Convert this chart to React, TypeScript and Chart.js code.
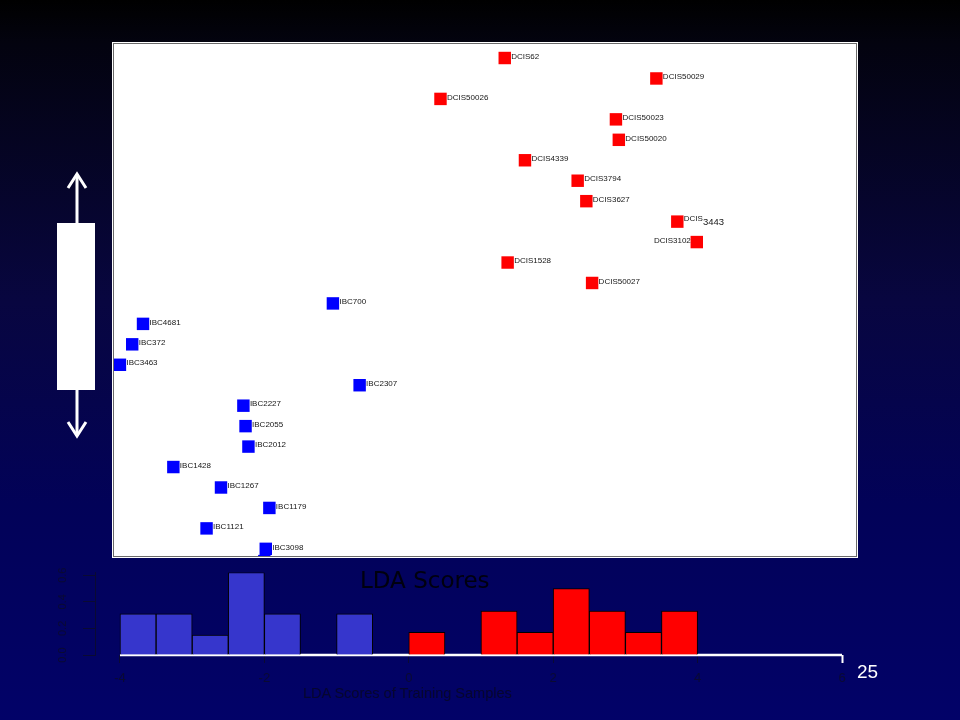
import React, { useEffect, useRef } from "react";
import { Chart, registerables } from "chart.js";

Chart.register(...registerables);

// ---------- Scatter (LDA score vs. sample order) ----------
const dcisLabels = ["DCIS62", "DCIS50029", "DCIS50026", "DCIS50023", "DCIS50020", "DCIS4339", "DCIS3794", "DCIS3627", "DCIS3443", "DCIS3102", "DCIS1528", "DCIS50027"];
const dcisScores = [1.34, 3.44, 0.45, 2.88, 2.92, 1.62, 2.35, 2.47, 3.73, 4.0, 1.38, 2.55];
const dcisOrder = [1, 2, 3, 4, 5, 6, 7, 8, 9, 10, 11, 12];

const ibcLabels = ["IBC700", "IBC4681", "IBC372", "IBC3463", "IBC2307", "IBC2227", "IBC2055", "IBC2012", "IBC1428", "IBC1267", "IBC1179", "IBC1121", "IBC3098", ""];
const ibcScores = [-1.04, -3.67, -3.82, -3.99, -0.67, -2.28, -2.25, -2.21, -3.25, -2.59, -1.92, -2.79, -1.97, -1.99];
const ibcOrder = [13, 14, 15, 16, 17, 18, 19, 20, 21, 22, 23, 24, 25, 25.6];

// ---------- Histogram (density of LDA scores) ----------
const ibcBinCenters = [-3.75, -3.25, -2.75, -2.25, -1.75, -0.75];
const ibcDensity = [0.31, 0.31, 0.15, 0.62, 0.31, 0.31];
const dcisBinCenters = [0.25, 1.25, 1.75, 2.25, 2.75, 3.25, 3.75];
const dcisDensity = [0.17, 0.33, 0.17, 0.5, 0.33, 0.17, 0.33];
const baselineX = [-4, 6];
const xTickValues = [-4, -2, 0, 2, 4, 6];
const yTickValues = [0, 0.2, 0.4, 0.6];

const pointLabelSets = [dcisLabels, ibcLabels];
const leftLabels = new Set(["DCIS3102"]);
const splitLabels: Record<string, number> = { DCIS3443: 4 };

const DARK = "#0a0a32";

const pointLabelPlugin = {
  id: "pointLabels",
  afterDatasetsDraw(chart: any) {
    const ctx = chart.ctx;
    ctx.save();
    ctx.fillStyle = "#151515";
    ctx.textBaseline = "middle";
    chart.data.datasets.forEach((_ds: any, i: number) => {
      const meta = chart.getDatasetMeta(i);
      const labels = pointLabelSets[i];
      meta.data.forEach((pt: any, j: number) => {
        const text = labels[j];
        if (!text) return;
        const x = pt.x;
        const y = pt.y - 1.5;
        ctx.font = '8px "Liberation Sans", Arial, sans-serif';
        if (leftLabels.has(text)) {
          ctx.textAlign = "right";
          ctx.fillText(text, x - 6, y);
        } else if (splitLabels[text] !== undefined) {
          const k = splitLabels[text];
          const a = text.slice(0, k);
          const b = text.slice(k);
          ctx.textAlign = "left";
          ctx.fillText(a, x + 6.5, y - 1);
          const w = ctx.measureText(a).width;
          ctx.font = '9.5px "Liberation Sans", Arial, sans-serif';
          ctx.fillText(b, x + 6.5 + w, y + 2);
        } else {
          ctx.textAlign = "left";
          ctx.fillText(text, x + 6.5, y);
        }
      });
    });
    ctx.restore();
  },
};

const yRotatedLabels = {
  id: "yRotatedLabels",
  afterDraw(chart: any) {
    const scale = chart.scales.y;
    const ctx = chart.ctx;
    ctx.save();
    ctx.fillStyle = DARK;
    ctx.font = '11px "Liberation Sans", Arial, sans-serif';
    ctx.textAlign = "center";
    ctx.textBaseline = "middle";
    scale.ticks.forEach((t: any) => {
      const py = scale.getPixelForValue(t.value);
      ctx.save();
      ctx.translate(23, py);
      ctx.rotate(-Math.PI / 2);
      ctx.fillText(t.value.toFixed(1), 0, 0);
      ctx.restore();
    });
    ctx.restore();
  },
};

export default function App() {
  const scatterRef = useRef<HTMLCanvasElement>(null);
  const histRef = useRef<HTMLCanvasElement>(null);

  useEffect(() => {
    const scatter = new Chart(scatterRef.current as HTMLCanvasElement, {
      type: "scatter",
      data: {
        datasets: [
          {
            label: "DCIS",
            data: dcisScores.map((v, i) => ({ x: v, y: dcisOrder[i] })),
            backgroundColor: "#ff0000",
            borderWidth: 0,
            pointStyle: "rect",
            pointRadius: 8.8,
            clip: 0,
          },
          {
            label: "IBC",
            data: ibcScores.map((v, i) => ({ x: v, y: ibcOrder[i] })),
            backgroundColor: "#0000ff",
            borderWidth: 0,
            pointStyle: "rect",
            pointRadius: 8.8,
            clip: 0,
          },
        ],
      },
      options: {
        animation: false,
        responsive: true,
        maintainAspectRatio: false,
        devicePixelRatio: 1,
        layout: { padding: 0, autoPadding: false },
        plugins: { legend: { display: false }, tooltip: { enabled: false } },
        scales: {
          x: { type: "linear", display: false, min: -4.072, max: 6.205 },
          y: { type: "linear", display: false, min: 0.315, max: 25.35, reverse: true },
        },
      },
      plugins: [pointLabelPlugin],
    } as any);

    const hist = new Chart(histRef.current as HTMLCanvasElement, {
      type: "bar",
      data: {
        datasets: [
          {
            type: "line",
            label: "axis",
            data: baselineX.map((v) => ({ x: v, y: 0 })),
            borderColor: "#ffffff",
            borderWidth: 2.5,
            pointRadius: 0,
            clip: false,
            order: 2,
          },
          {
            label: "IBC",
            data: ibcBinCenters.map((v, i) => ({ x: v, y: ibcDensity[i] })),
            backgroundColor: "#3636cc",
            borderColor: "#000000",
            borderWidth: 1,
            grouped: false,
            barPercentage: 1,
            categoryPercentage: 1,
            order: 1,
          },
          {
            label: "DCIS",
            data: dcisBinCenters.map((v, i) => ({ x: v, y: dcisDensity[i] })),
            backgroundColor: "#ff0000",
            borderColor: "#000000",
            borderWidth: 1,
            grouped: false,
            barPercentage: 1,
            categoryPercentage: 1,
            order: 1,
          },
        ],
      },
      options: {
        animation: false,
        responsive: true,
        maintainAspectRatio: false,
        devicePixelRatio: 1,
        layout: { padding: { top: 12.5, right: 58, left: 0, bottom: 0 }, autoPadding: false },
        plugins: { legend: { display: false }, tooltip: { enabled: false } },
        scales: {
          x: {
            type: "linear",
            min: -4.346,
            max: 6,
            offset: false,
            afterBuildTicks: (s: any) => {
              s.ticks = xTickValues.map((v) => ({ value: v }));
            },
            afterFit: (s: any) => {
              s.height = 65;
            },
            border: { display: false },
            grid: {
              offset: false,
              drawOnChartArea: false,
              drawTicks: true,
              tickLength: 8,
              tickColor: (c: any) => (c.tick && c.tick.value === 6 ? "#ffffff" : DARK),
              tickWidth: (c: any) => (c.tick && c.tick.value === 6 ? 2 : 1),
            },
            ticks: {
              color: DARK,
              padding: 8,
              maxRotation: 0,
              font: { family: '"Liberation Sans", Arial, sans-serif', size: 13 },
              callback: (v: any) => String(v),
            },
          },
          y: {
            type: "linear",
            min: 0,
            max: 0.62,
            afterBuildTicks: (s: any) => {
              s.ticks = yTickValues.map((v) => ({ value: v }));
            },
            afterFit: (s: any) => {
              s.width = 55;
            },
            border: { display: true, color: DARK, width: 1 },
            grid: { drawOnChartArea: false, drawTicks: true, tickLength: 12, tickColor: DARK },
            ticks: { display: false },
          },
        },
      },
      plugins: [yRotatedLabels],
    } as any);

    return () => {
      scatter.destroy();
      hist.destroy();
    };
  }, []);

  return (
    <div
      style={{
        position: "fixed",
        left: 0,
        top: 0,
        width: 960,
        height: 720,
        overflow: "hidden",
        background:
          "linear-gradient(180deg, #000000 0%, #03030f 6%, #080640 42%, #020258 70%, #020268 100%)",
        fontFamily: '"Liberation Sans", Arial, sans-serif',
      }}
    >
      <svg width={960} height={720} style={{ position: "absolute", left: 0, top: 0 }}>
        <line x1={77} y1={174} x2={77} y2={436} stroke="#ffffff" strokeWidth={3} />
        <polyline points="68,188 77,174 86,188" fill="none" stroke="#ffffff" strokeWidth={3} />
        <polyline points="68,422 77,436 86,422" fill="none" stroke="#ffffff" strokeWidth={3} />
        <rect x={57} y={223} width={38} height={167} fill="#ffffff" />
      </svg>

      <div
        style={{
          position: "absolute",
          left: 112,
          top: 42,
          width: 746,
          height: 516,
          background: "#ffffff",
        }}
      >
        <div
          style={{
            position: "absolute",
            left: 1,
            top: 1,
            width: 744,
            height: 514,
            border: "1px solid #6a6a6a",
            boxSizing: "border-box",
          }}
        >
          <div style={{ position: "relative", width: 742, height: 512 }}>
            <canvas ref={scatterRef} />
          </div>
        </div>
      </div>

      <div style={{ position: "absolute", left: 40, top: 560, width: 860, height: 160 }}>
        <canvas ref={histRef} />
      </div>

      <div
        style={{
          position: "absolute",
          left: 360,
          top: 569,
          fontFamily: '"DejaVu Sans", sans-serif',
          fontSize: 23,
          lineHeight: "23px",
          color: "#00000e",
          whiteSpace: "nowrap",
        }}
      >
        LDA Scores
      </div>

      <div
        style={{
          position: "absolute",
          left: 303,
          top: 686,
          fontSize: 14.5,
          lineHeight: "14.5px",
          color: "#06062e",
          whiteSpace: "nowrap",
        }}
      >
        LDA Scores of Training Samples
      </div>

      <div
        style={{
          position: "absolute",
          left: 857,
          top: 662,
          fontSize: 19,
          lineHeight: "19px",
          color: "#ffffff",
          whiteSpace: "nowrap",
        }}
      >
        25
      </div>
    </div>
  );
}
